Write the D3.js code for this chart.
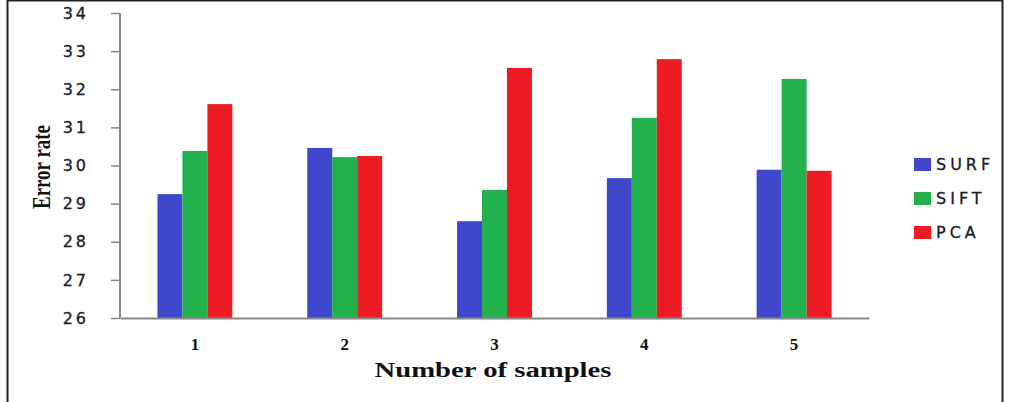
<!DOCTYPE html>
<html>
<head>
<meta charset="utf-8">
<script src="https://cdn.jsdelivr.net/npm/d3@7"></script>
<style>
  body { margin: 0; background: #fff; }
  svg { display: block; }
</style>
</head>
<body>
<svg id="chart" width="1009" height="402"></svg>
<script>
// chart data
const samples = ["1", "2", "3", "4", "5"];
const seriesNames = ["SURF", "SIFT", "PCA"];
const surfValues = [29.25, 30.46, 28.54, 29.67, 29.89];
const siftValues = [30.38, 30.22, 29.36, 31.25, 32.27];
const pcaValues = [31.61, 30.25, 32.56, 32.79, 29.86];
const yTicks = [26, 27, 28, 29, 30, 31, 32, 33, 34];

const colors = ["#3F48CC", "#22B14C", "#ED1C24"];
const seriesValues = [surfValues, siftValues, pcaValues];

const svg = d3.select("#chart");

// outer frame (bottom edge runs off the picture)
svg.append("rect")
    .attr("x", 7.5).attr("y", 0.5)
    .attr("width", 995).attr("height", 410)
    .attr("fill", "none").attr("stroke", "#222").attr("stroke-width", 2);

const plotLeft = 120, plotRight = 869, plotTop = 13, plotBottom = 318;

const x = d3.scaleBand().domain(samples).range([plotLeft, plotRight]);
const xs = d3.scaleBand().domain(seriesNames).range([0, x.bandwidth() * 0.5]);
const y = d3.scaleLinear().domain([26, 34]).range([plotBottom, plotTop]);

// bars
samples.forEach((s, i) => {
    const g = svg.append("g")
        .attr("transform", `translate(${x(s) + x.bandwidth() * 0.25},0)`);
    g.selectAll("rect")
        .data(seriesNames.map((n, k) => ({ n, v: seriesValues[k][i], c: colors[k] })))
        .join("rect")
        .attr("x", d => xs(d.n))
        .attr("width", xs.bandwidth())
        .attr("y", d => y(d.v))
        .attr("height", d => plotBottom - y(d.v))
        .attr("fill", d => d.c);
});

// y axis
const yAxis = svg.append("g")
    .attr("transform", `translate(${plotLeft},0)`)
    .call(d3.axisLeft(y).tickValues(yTicks).tickSize(9).tickPadding(22).tickFormat(d3.format("d")));
yAxis.select(".domain").attr("stroke", "#888").attr("stroke-width", 2).attr("d", `M0,${plotTop}V${plotBottom}`);
yAxis.selectAll(".tick line").attr("stroke", "#888").attr("stroke-width", 1.5);
yAxis.selectAll(".tick text")
    .attr("font-family", "DejaVu Sans, Verdana, sans-serif")
    .attr("font-size", 16).attr("fill", "#1a1a2a")
    .attr("stroke", "#1a1a2a").attr("stroke-width", 0.3)
    .attr("letter-spacing", 3);

// x axis
const xAxis = svg.append("g")
    .attr("transform", `translate(0,${plotBottom})`)
    .call(d3.axisBottom(x).tickSize(0).tickPadding(20));
xAxis.select(".domain").attr("stroke", "#888").attr("stroke-width", 2);
xAxis.selectAll(".tick text")
    .attr("font-family", "Liberation Serif, Times New Roman, serif")
    .attr("font-weight", "bold")
    .attr("font-size", 17).attr("fill", "#111");

// axis titles
svg.append("text")
    .attr("x", 493).attr("y", 377)
    .attr("text-anchor", "middle")
    .attr("font-family", "Liberation Serif, Times New Roman, serif")
    .attr("font-weight", "bold").attr("font-size", 20).attr("fill", "#111")
    .attr("textLength", 237).attr("lengthAdjust", "spacingAndGlyphs")
    .text("Number of samples");

svg.append("text")
    .attr("transform", "translate(50,167) rotate(-90)")
    .attr("text-anchor", "middle")
    .attr("font-family", "Liberation Serif, Times New Roman, serif")
    .attr("font-weight", "bold").attr("font-size", 26).attr("fill", "#111")
    .attr("textLength", 84).attr("lengthAdjust", "spacingAndGlyphs")
    .text("Error rate");

// legend
const legend = svg.append("g").attr("transform", "translate(914,158)");
seriesNames.forEach((n, k) => {
    legend.append("rect")
        .attr("x", 0).attr("y", k * 34)
        .attr("width", 17).attr("height", 13)
        .attr("fill", colors[k]);
    legend.append("text")
        .attr("x", 22).attr("y", k * 34 + 6.5)
        .attr("dy", "0.36em")
        .attr("font-family", "DejaVu Sans, Verdana, sans-serif")
        .attr("font-size", 16).attr("fill", "#1a1a2a")
        .attr("stroke", "#1a1a2a").attr("stroke-width", 0.3)
        .attr("letter-spacing", 4)
        .text(n);
});
</script>
</body>
</html>
